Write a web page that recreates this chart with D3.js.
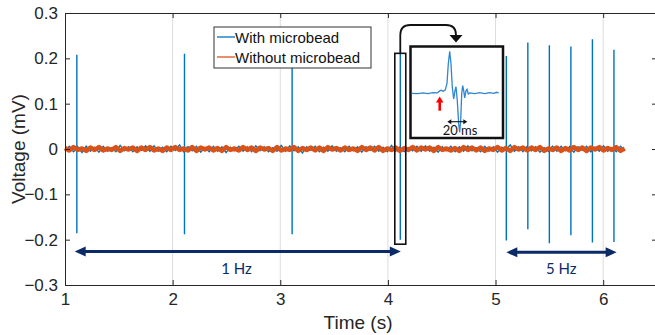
<!DOCTYPE html>
<html lang="en">
  <head>
    <meta charset="UTF-8" />
    <title>Voltage trace with / without microbead</title>
    <script src="https://d3js.org/d3.v7.min.js"></script>
    <style>
      body { margin: 0; background: #fff; }
      svg { display: block; font-family: "Liberation Sans", Arial, sans-serif; }
      .axis path, .axis line { stroke: #262626; }
      .axis text { fill: #262626; font-size: 17px; }
      .grid line { stroke: #dcdcdc; stroke-width: 1; }
    </style>
  </head>
  <body>
    <svg width="655" height="335"></svg>
    <script>
      const width = 655;
      const height = 335;
      const margin = { top: 13, right: -2, bottom: 50, left: 65 };

      // axis ticks
      const xTicks = [1, 2, 3, 4, 5, 6];
      const yTicks = [-0.3, -0.2, -0.1, 0, 0.1, 0.2, 0.3];

      // stimulation spikes (s, mV)
      const spikeTimes = [1.11, 2.11, 3.11, 4.115, 5.1, 5.3, 5.5, 5.7, 5.9, 6.1];
      const spikeMax = [0.208, 0.21, 0.207, 0.21, 0.205, 0.235, 0.229, 0.226, 0.242, 0.219];
      const spikeMin = [-0.186, -0.188, -0.188, -0.2, -0.202, -0.177, -0.208, -0.19, -0.206, -0.205];

      // baseline noise, microvolts, sampled evenly from 1.0 s to 6.2 s
      const traceStart = 1.0;
      const traceEnd = 6.2;
      const noiseWith = [-4,6,-6,5,-8,6,-5,4,-7,6,-5,3,-6,8,-4,5,-6,5,-3,7,-5,7,-5,4,-6,6,-3,9,-6,5,-4,6,-7,3,-6,6,-5,5,-8,4,-3,6,-5,5,-6,7,-4,5,-6,3,-5,8,-5,7,-4,5,-9,5,-3,6,-6,4,-5,7,-5,3,-6,6,-4,5,-7,5,-3,6,-5,4,-6,8,-5,5,-6,3,-4,6,-5,7,-5,4,-7,5,-3,6,-6,5,-5,7,-4,3,-6,6,-5,5,-7,4,-3,9,-5,5,-6,6,-4,5,-7,3,-5,6,-5,6,-4,5,-7,5,-3,6,-6,4,-5,7,-5,3,-6,6,-4];
      const noiseWithout = [2,-3,4,-2,1,-4,3,-2,4,-3,1,-2,4,-4,2,-1,3,-4,3,-2,4,-3,1,-4,3,-2,4,-2,1,-3,4,-4,3,-1,3,-3,2,-4,4,-2,1,-3,4,-2,3,-4,3,-1,2,-4,4,-3,1,-2,4,-4,2,-2,3,-3,3,-4,4,-1,2,-3,3,-2,1,-4,4,-2,3,-3,4,-4,1,-2,3,-4,2,-2,4,-3,3,-1,3,-4,4,-2,1,-3,2,-4,4,-2,3,-3,3,-4,1,-2,4,-3,2,-4,4,-1,3,-3,3,-2,4,-4,1,-2,3,-4,2,-3,4,-2,3,-4,3,-1,4,-3,2,-2,4,-4,1];

      // zoomed single spike for the inset (ms, mV)
      const insetT = [0, 6, 11, 16, 21, 25.3, 27.7, 29.3, 31.3, 33.3, 35, 36.3, 37.7, 39, 40.3, 41.7, 43, 44, 45.3, 46.7, 47.7, 48.7, 49.7, 50.7, 51.7, 52.7, 54, 55, 56.3, 58, 62.7, 67.7, 72.7, 77.7, 82, 84.3, 86.7];
      const insetV = [0, -0.002, 0.002, -0.002, 0.003, 0.002, 0.012, 0.015, 0.01, 0.017, 0.05, 0.147, 0.21, 0.147, 0.03, -0.028, 0.013, 0.033, -0.037, -0.153, -0.195, -0.137, -0.003, 0.038, 0.013, -0.023, 0.013, 0.02, -0.003, 0.002, -0.002, 0.003, -0.002, 0.003, 0, 0.005, 0.002];

      const colors = { with: "#0072BD", without: "#D95319", navy: "#0c2a68" };

      const svg = d3.select("svg");

      const x = d3.scaleLinear().domain([1, 6.5]).range([margin.left, width - margin.right]);
      const y = d3.scaleLinear().domain([-0.3, 0.3]).range([height - margin.bottom, margin.top]);

      // grid (x only)
      svg.append("g").attr("class", "grid")
        .selectAll("line").data(xTicks.slice(1)).enter().append("line")
        .attr("x1", (d) => x(d)).attr("x2", (d) => x(d))
        .attr("y1", y(0.3)).attr("y2", y(-0.3));

      // build the traces
      const step = (traceEnd - traceStart) / (noiseWith.length - 1);
      const withPts = noiseWith.map((v, i) => [traceStart + i * step, v / 1000]);
      spikeTimes.forEach((t, i) => {
        withPts.push([t, 0], [t, spikeMax[i]], [t, spikeMin[i]], [t, 0]);
      });
      withPts.sort((a, b) => a[0] - b[0]);
      const step2 = (traceEnd - traceStart) / (noiseWithout.length - 1);
      const withoutPts = noiseWithout.map((v, i) => [traceStart + i * step2, v / 1000]);

      const line = d3.line().x((d) => x(d[0])).y((d) => y(d[1]));

      svg.append("path").datum(withPts)
        .attr("fill", "none").attr("stroke", colors.with)
        .attr("stroke-width", 1.4).attr("d", line);
      svg.append("path").datum(withoutPts)
        .attr("fill", "none").attr("stroke", colors.without)
        .attr("stroke-width", 4.6).attr("stroke-linejoin", "round").attr("d", line);

      // axes (box with inward ticks)
      const plotB = y(-0.3), plotT = y(0.3), plotL = x(1), plotR = x(6.5);
      svg.append("g").attr("class", "axis")
        .attr("transform", `translate(0,${plotB})`)
        .call(d3.axisBottom(x).tickValues(xTicks).tickFormat(d3.format("d"))
          .tickSize(-5).tickSizeOuter(0).tickPadding(8));
      svg.append("g").attr("class", "axis")
        .attr("transform", `translate(0,${plotT})`)
        .call(d3.axisTop(x).tickValues(xTicks).tickFormat("")
          .tickSize(-5).tickSizeOuter(0));
      svg.append("g").attr("class", "axis")
        .attr("transform", `translate(${plotL},0)`)
        .call(d3.axisLeft(y).tickValues(yTicks).tickFormat((d) => d === 0 ? "0" : d3.format(".1f")(d))
          .tickSize(-5).tickSizeOuter(0).tickPadding(7));
      svg.append("g").attr("class", "axis")
        .attr("transform", `translate(${plotR},0)`)
        .call(d3.axisRight(y).tickValues(yTicks).tickFormat("")
          .tickSize(-5).tickSizeOuter(0));

      // axis labels
      svg.append("text")
        .attr("x", (plotL + plotR) / 2 - 3).attr("y", 329)
        .attr("text-anchor", "middle").attr("fill", "#262626")
        .style("font-size", "19px").text("Time (s)");
      svg.append("text")
        .attr("transform", `translate(25,${y(0)}) rotate(-90)`)
        .attr("text-anchor", "middle").attr("fill", "#262626")
        .style("font-size", "19px").text("Voltage (mV)");

      // frequency arrows
      function doubleArrow(x1, x2, yy, color, w, head, half) {
        const g = svg.append("g");
        g.append("line").attr("x1", x1 + head - 1).attr("x2", x2 - head + 1)
          .attr("y1", yy).attr("y2", yy)
          .attr("stroke", color).attr("stroke-width", w);
        g.append("path").attr("fill", color)
          .attr("d", `M${x1},${yy} L${x1 + head},${yy - half} L${x1 + head},${yy + half} Z`);
        g.append("path").attr("fill", color)
          .attr("d", `M${x2},${yy} L${x2 - head},${yy - half} L${x2 - head},${yy + half} Z`);
      }
      doubleArrow(x(1.09), x(4.12), y(-0.226), colors.navy, 3, 11, 5);
      doubleArrow(x(5.1), x(6.125), y(-0.228), colors.navy, 3, 11, 5);
      svg.selectAll(".hz").data([[2.594, "1 Hz"], [5.61, "5 Hz"]]).enter().append("text")
        .attr("x", (d) => x(d[0])).attr("y", y(-0.265) + 5)
        .attr("text-anchor", "middle").attr("fill", colors.navy)
        .style("font-family", "Lato, 'Open Sans', sans-serif").style("font-size", "15px")
        .text((d) => d[1]);

      // narrow box around the zoomed spike
      svg.append("rect")
        .attr("x", x(4.064)).attr("y", y(0.211))
        .attr("width", x(4.166) - x(4.064)).attr("height", y(-0.21) - y(0.211))
        .attr("fill", "none").attr("stroke", "#111").attr("stroke-width", 1.6);

      // curved connector arrow
      const cx0 = x(4.115);
      svg.append("path")
        .attr("d", `M${cx0},${y(0.211)} L${cx0},35 Q${cx0},25 ${cx0 + 10},25 L446,25 Q456,25 456,35 L456,36`)
        .attr("fill", "none").attr("stroke", "#111").attr("stroke-width", 1.8);
      svg.append("path").attr("fill", "#111")
        .attr("d", "M449.5,35 L462.5,35 L456,42.5 Z");

      // inset
      const insetBox = { x: 410.5, y: 46.5, w: 92.5, h: 91.5 };
      const ix = d3.scaleLinear().domain([0, 87]).range([412, 499]);
      const iy = d3.scaleLinear().domain([-0.2, 0.21]).range([133.3, 51.3]);
      svg.append("rect")
        .attr("x", insetBox.x).attr("y", insetBox.y)
        .attr("width", insetBox.w).attr("height", insetBox.h)
        .attr("fill", "#fff").attr("stroke", "#111").attr("stroke-width", 2.5);
      svg.append("path")
        .datum(insetT.map((t, i) => [t, insetV[i]]))
        .attr("fill", "none").attr("stroke", "#2f86cf").attr("stroke-width", 1.3)
        .attr("d", d3.line().x((d) => ix(d[0])).y((d) => iy(d[1])));
      // red marker arrow
      const rx = ix(27.7);
      svg.append("line").attr("x1", rx).attr("x2", rx).attr("y1", 110.7).attr("y2", 101)
        .attr("stroke", "#f00").attr("stroke-width", 2.6);
      svg.append("path").attr("fill", "#f00")
        .attr("d", `M${rx - 3.8},102.5 L${rx + 3.8},102.5 L${rx},96.5 Z`);
      // 20 ms scale arrow
      doubleArrow(ix(35.3), ix(55.3), 121.7, "#111", 1.1, 4, 2.5);
      svg.append("text")
        .attr("x", ix(48)).attr("y", 135).attr("text-anchor", "middle")
        .attr("fill", "#111").style("font-family", "Lato, 'Open Sans', sans-serif")
        .style("font-size", "13px").text("20 ms");

      // legend
      const legend = svg.append("g").attr("transform", "translate(214,27)");
      legend.append("rect").attr("width", 157).attr("height", 41)
        .attr("fill", "#fff").attr("stroke", "#333").attr("stroke-width", 1);
      const legItems = [["With microbead", colors.with], ["Without microbead", colors.without]];
      legItems.forEach((d, i) => {
        const yy = 10 + i * 20;
        legend.append("line").attr("x1", 3).attr("x2", 21).attr("y1", yy).attr("y2", yy)
          .attr("stroke", d[1]).attr("stroke-width", 1.3);
        legend.append("text").attr("x", 21).attr("y", yy + 5.5)
          .attr("fill", "#111").style("font-size", "15px").text(d[0]);
      });
    </script>
  </body>
</html>
